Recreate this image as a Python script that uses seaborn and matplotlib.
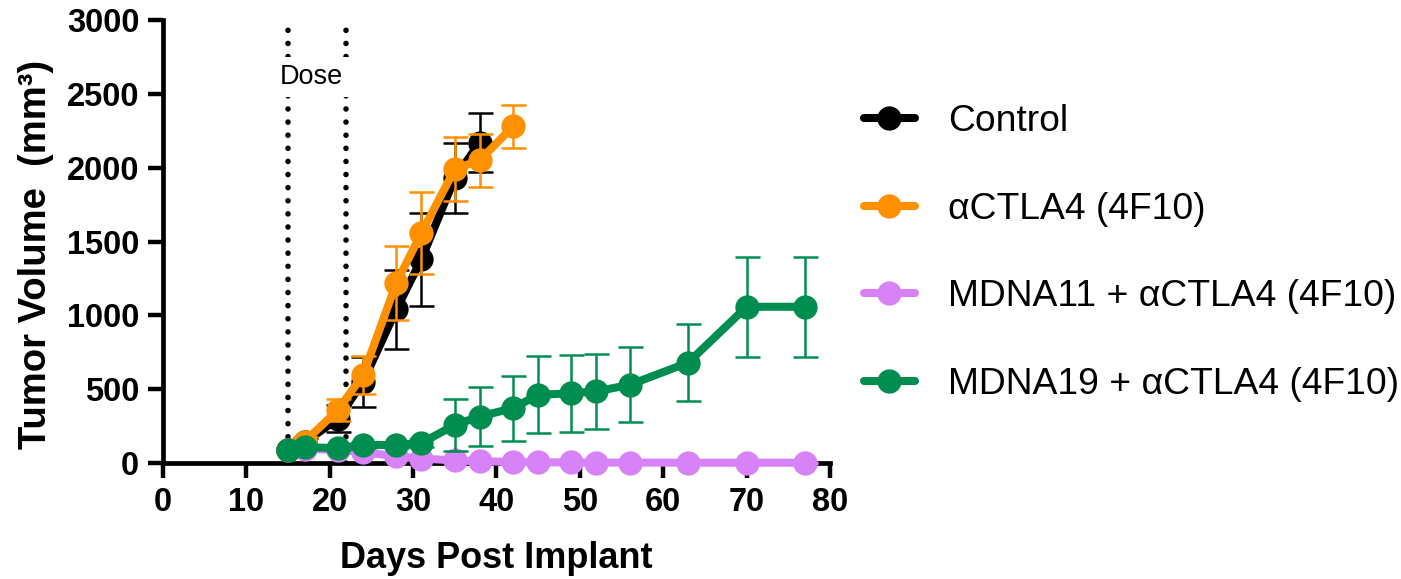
import numpy as np
import pandas as pd
import matplotlib
matplotlib.use("Agg")
import matplotlib.pyplot as plt
import seaborn as sns
from matplotlib.lines import Line2D

# ---- data ----
ctrl_days = [15, 17, 21, 24, 28, 31, 35, 38]
ctrl_mean = [90, 140, 300, 550, 1040, 1380, 1930, 2170]
ctrl_sem = [15, 30, 90, 170, 265, 315, 240, 200]

ctla_days = [15, 17, 21, 24, 28, 31, 35, 38, 42]
ctla_mean = [90, 145, 360, 595, 1220, 1557, 1990, 2050, 2280]
ctla_sem = [15, 30, 75, 130, 250, 280, 215, 180, 145]

later_days = [15, 17, 21, 24, 28, 31, 35, 38, 42, 45, 49, 52, 56, 63, 70, 77]
mdna11_mean = [85, 95, 90, 75, 45, 30, 18, 12, 8, 5, 4, 3, 3, 2, 2, 2]
mdna11_sem = [10, 10, 10, 10, 8, 6, 4, 3, 2, 2, 1, 1, 1, 1, 1, 1]
mdna19_mean = [88, 108, 100, 122, 122, 135, 258, 315, 372, 462, 472, 485, 530, 680, 1058, 1058]
mdna19_sem = [10, 15, 15, 20, 20, 25, 175, 200, 220, 260, 260, 255, 255, 260, 340, 340]

labels = ["Control", "αCTLA4 (4F10)", "MDNA11 + αCTLA4 (4F10)", "MDNA19 + αCTLA4 (4F10)"]
colors = ["#000000", "#FF9000", "#D882F8", "#008E50"]
dose_days = [15, 22]

x_ticks = [0, 10, 20, 30, 40, 50, 60, 70, 80]
y_ticks = [0, 500, 1000, 1500, 2000, 2500, 3000]

series = [
    (ctrl_days, ctrl_mean, ctrl_sem),
    (ctla_days, ctla_mean, ctla_sem),
    (later_days, mdna11_mean, mdna11_sem),
    (later_days, mdna19_mean, mdna19_sem),
]

sns.set_theme(style="ticks")
plt.rcParams["font.family"] = ["Liberation Sans", "DejaVu Sans"]
for k in ["text.color", "axes.labelcolor", "xtick.color", "ytick.color", "axes.edgecolor"]:
    plt.rcParams[k] = "black"

fig = plt.figure(figsize=(14.01, 5.79), dpi=100)
ax = fig.add_axes([0.1163, 0.2003, 0.4761, 0.7652])

# dose lines
for d in dose_days:
    ax.plot([d, d], [0, 3000], color="black", lw=4.0, linestyle=(0, (0.01, 2.35)),
            dash_capstyle="round", zorder=1, clip_on=False)
ax.text(np.mean(dose_days) - 0.7, 2613, "Dose", ha="center", va="center", fontsize=19.5,
        bbox=dict(boxstyle="square,pad=0.26", fc="white", ec="none"), zorder=1.5)

draw_order = [2, 0, 1, 3]
for i in draw_order:
    days, mean, sem = series[i]
    df = pd.DataFrame({"day": days, "vol": mean})
    z = 4 + draw_order.index(i)
    ax.errorbar(days, mean, yerr=sem, fmt="none", ecolor=colors[i], elinewidth=1.8,
                capsize=9, capthick=1.8, zorder=z, clip_on=False)
    sns.lineplot(data=df, x="day", y="vol", ax=ax, color=colors[i], linewidth=5.8,
                 marker="o", markersize=17.5, markeredgewidth=0, zorder=z + 0.5,
                 clip_on=False, legend=False)

ax.set_xlim(0, 80)
ax.set_ylim(0, 3000)
ax.set_xticks(x_ticks)
ax.set_yticks(y_ticks)
ax.set_xticklabels([str(v) for v in x_ticks], fontsize=23.5, fontweight="bold")
ax.set_yticklabels([str(v) for v in y_ticks], fontsize=23.5, fontweight="bold")
ax.tick_params(axis="both", length=11, width=3.2, color="black", pad=6)
for s in ["top", "right"]:
    ax.spines[s].set_visible(False)
for s in ["left", "bottom"]:
    ax.spines[s].set_linewidth(3.4)
    ax.spines[s].set_color("black")
    ax.spines[s].set_zorder(2.5)

ax.set_xlabel("Days Post Implant", fontsize=26, fontweight="bold", labelpad=17)
ax.set_ylabel("Tumor Volume  (mm³)", fontsize=27.5, fontweight="bold")
ax.yaxis.set_label_coords(-0.163, 0.47)
ax.grid(False)

handles = [Line2D([0], [0], color=c, lw=5.8, marker="o", markersize=17.5,
                  markeredgewidth=0, solid_capstyle="round") for c in colors]
fig.legend(handles, labels, loc="center left", bbox_to_anchor=(0.593, 0.563),
           frameon=False, fontsize=26.8, handlelength=1.35, handletextpad=0.9,
           labelspacing=1.41)

fig.savefig("out.png", dpi=100)
